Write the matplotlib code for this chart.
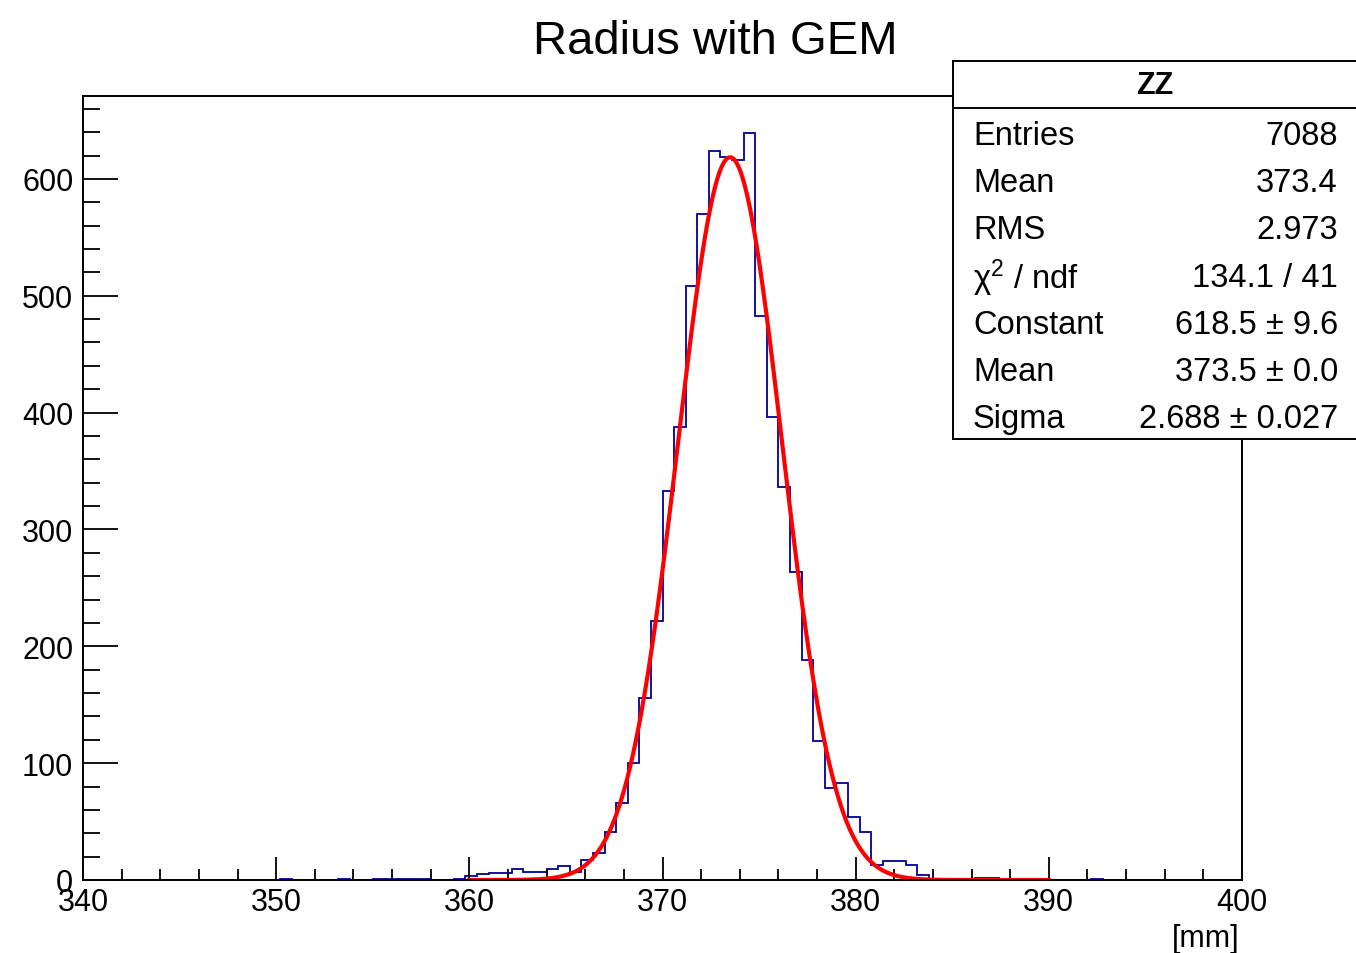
import numpy as np
import matplotlib
matplotlib.use("Agg")
import matplotlib.pyplot as plt

plt.rcParams['font.family'] = ['Liberation Sans', 'DejaVu Sans']
plt.rcParams['mathtext.fontset'] = 'custom'
plt.rcParams['mathtext.rm'] = 'Liberation Sans'
plt.rcParams['mathtext.it'] = 'Liberation Sans:italic'

# histogram: 100 bins of 0.6 mm from 340 to 400
bin_lo = 340.0
bin_width = 0.6
counts = [0] * 100
# left tail
counts[17] = 1
counts[22] = 1
counts[25:30] = [1, 1, 1, 1, 1]
counts[32:46] = [1, 3, 5, 6, 6, 9, 7, 7, 9, 12, 7, 17, 23, 41]
# peak
counts[46:68] = [66, 100, 156, 222, 333, 388, 508, 570, 624, 619, 616,
                 639, 483, 396, 336, 264, 188, 119, 79, 83, 54, 41]
# right tail
counts[68:74] = [13, 16, 16, 13, 4, 1]
counts[77:79] = [2, 2]
counts[87] = 1

# gaus fit
fit_const = 618.5
fit_mean = 373.5
fit_sigma = 2.688
fit_lo, fit_hi = 360.0, 390.0

title = "Radius with GEM"
stat_name = "ZZ"
stat_labels = ["Entries", "Mean", "RMS", "χ$^{2}$ / ndf", "Constant", "Mean", "Sigma"]
stat_values = ["7088", "373.4", "2.973", "134.1 / 41", "618.5 ± 9.6", "373.5 ± 0.0", "2.688 ± 0.027"]

W, H = 1356, 954
fig = plt.figure(figsize=(W / 100, H / 100), dpi=100)
ax = fig.add_axes([83 / W, 1 - 881 / H, (1242 - 83) / W, (881 - 97) / H])

edges = bin_lo + bin_width * np.arange(len(counts) + 1)
ax.stairs(counts, edges, color='#000099', lw=1.3)

xf = np.linspace(fit_lo, fit_hi, 600)
yf = fit_const * np.exp(-0.5 * ((xf - fit_mean) / fit_sigma) ** 2)
ax.plot(xf, yf, color='#ff0000', lw=3)

ax.set_xlim(edges[0], edges[-1])
ax.set_ylim(0, 1.05 * max(counts))
ax.set_xticks(np.arange(340, 401, 10))
ax.set_xticks(np.arange(340, 401, 2), minor=True)
ax.set_yticks(np.arange(0, 601, 100))
ax.set_yticks(np.arange(0, 661, 20), minor=True)
ax.tick_params(axis='x', which='major', direction='in', length=16.5, width=1.3, labelsize=22, pad=5)
ax.tick_params(axis='x', which='minor', direction='in', length=8, width=1.3)
ax.tick_params(axis='y', which='major', direction='in', length=25, width=1.3, labelsize=22, pad=7)
ax.tick_params(axis='y', which='minor', direction='in', length=12, width=1.3)
for s in ax.spines.values():
    s.set_linewidth(1.4)

fig.text(1240 / W, 1 - 947 / H, "[mm]", ha='right', va='baseline', fontsize=22)
fig.text(715 / W, 1 - 54 / H, title, ha='center', va='baseline', fontsize=34)

# stats box
sb = fig.add_axes([953 / W, 1 - 440 / H, (W - 953) / W, (440 - 62) / H])
sb.set_xticks([])
sb.set_yticks([])
sb.spines['right'].set_visible(False)
for s in sb.spines.values():
    s.set_linewidth(1.4)
sb.axhline(0.876, color='k', lw=1.4)
sb.text(0.501, 0.937, stat_name, ha='center', va='center', fontsize=22, fontweight='bold')
for k in range(len(stat_labels)):
    yy = 0.803 - k * 0.1249
    sb.text(0.0496, yy, stat_labels[k], ha='left', va='center', fontsize=23.5)
    sb.text(0.955, yy, stat_values[k], ha='right', va='center', fontsize=23.5)

fig.savefig("out.png", dpi=100)
